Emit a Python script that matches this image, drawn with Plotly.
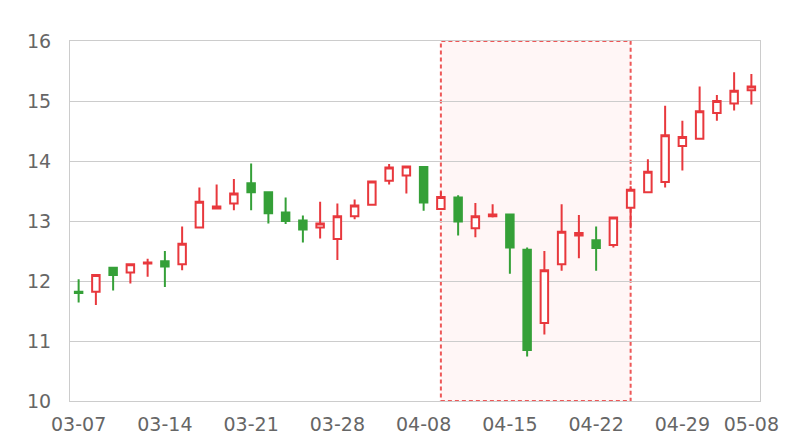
import plotly.graph_objects as go

dates = ["03-07", "03-08", "03-11", "03-12", "03-13", "03-14", "03-15", "03-18", "03-19", "03-20",
         "03-21", "03-22", "03-25", "03-26", "03-27", "03-28", "03-29", "04-01", "04-02", "04-03",
         "04-08", "04-09", "04-10", "04-11", "04-12", "04-15", "04-16", "04-17", "04-18", "04-19",
         "04-22", "04-23", "04-24", "04-25", "04-26", "04-29", "04-30", "05-06", "05-07", "05-08"]

open_ = [11.82, 11.82, 12.22, 12.14, 12.29, 12.33, 12.28, 12.89, 13.21, 13.29,
         13.63, 13.48, 13.14, 13.01, 12.89, 12.70, 13.08, 13.27, 13.67, 13.76,
         13.90, 13.20, 13.39, 12.88, 13.08, 13.11, 12.52, 11.30, 12.28, 12.76,
         12.68, 12.60, 13.22, 13.48, 13.65, 14.25, 14.37, 14.80, 14.96, 15.18]
close = [11.80, 12.10, 12.10, 12.28, 12.31, 12.24, 12.62, 13.32, 13.24, 13.46,
         13.48, 13.13, 13.00, 12.86, 12.96, 13.08, 13.26, 13.66, 13.89, 13.91,
         13.31, 13.40, 12.99, 13.08, 13.11, 12.56, 10.85, 12.18, 12.82, 12.80,
         12.55, 13.06, 13.52, 13.82, 14.43, 14.40, 14.83, 15.00, 15.17, 15.24]
high = [12.03, 12.10, 12.23, 12.28, 12.37, 12.50, 12.91, 13.56, 13.61, 13.70,
        13.96, 13.48, 13.39, 13.09, 13.32, 13.29, 13.36, 13.66, 13.95, 13.92,
        13.91, 13.49, 13.43, 13.30, 13.28, 13.12, 12.56, 12.50, 13.28, 13.10,
        12.91, 13.06, 13.58, 14.03, 14.92, 14.67, 15.24, 15.10, 15.48, 15.45]
low = [11.64, 11.60, 11.84, 11.96, 12.07, 11.90, 12.18, 12.89, 13.19, 13.18,
       13.18, 12.96, 12.95, 12.64, 12.71, 12.35, 13.03, 13.27, 13.61, 13.46,
       13.17, 13.20, 12.76, 12.73, 13.06, 12.12, 10.74, 11.11, 12.17, 12.38,
       12.17, 12.56, 12.88, 13.48, 13.56, 13.84, 14.36, 14.67, 14.84, 14.94]

tick_labels = ["03-07", "03-14", "03-21", "03-28", "04-08", "04-15", "04-22", "04-29", "05-08"]
highlight_start, highlight_end = "04-09", "04-24"

RED = "#e8383d"
GREEN = "#35a038"

fig = go.Figure(go.Candlestick(
    x=dates, open=open_, high=high, low=low, close=close,
    increasing=dict(line=dict(color=RED, width=2), fillcolor="white"),
    decreasing=dict(line=dict(color=GREEN, width=2), fillcolor=GREEN),
    whiskerwidth=0,
    hoverinfo="x+y",
))

fig.add_shape(type="rect", xref="x", yref="y",
              x0=highlight_start, x1=highlight_end, y0=10, y1=16,
              fillcolor="rgba(255,225,225,0.3)",
              line=dict(color="rgba(235,70,70,0.9)", width=2, dash="4px,3px"),
              layer="below")

# page body has an 8px default margin; plot area targeted at page x 70-760, y 41-401
fig.update_layout(
    width=800, height=440,
    margin=dict(l=62, r=48, t=33, b=47, autoexpand=False),
    paper_bgcolor="white", plot_bgcolor="white",
    showlegend=False,
    boxgap=0.38,
    font=dict(family="DejaVu Sans", size=19, color="#666666"),
    xaxis=dict(
        type="category", range=[-0.5, len(dates) - 0.5],
        automargin=False,
        rangeslider=dict(visible=False),
        tickmode="array", tickvals=tick_labels, ticktext=tick_labels,
        showgrid=False, showline=True, linecolor="#cccccc", linewidth=1, mirror=True,
        ticks="outside", ticklen=6, tickcolor="rgba(0,0,0,0)",
        tickfont=dict(size=19, color="#666666"),
    ),
    yaxis=dict(
        range=[10, 16], dtick=1, tick0=10,
        automargin=False,
        showgrid=True, gridcolor="#cccccc", gridwidth=1,
        showline=True, linecolor="#cccccc", linewidth=1, mirror=True,
        zeroline=False,
        ticks="outside", ticklen=14, tickcolor="rgba(0,0,0,0)",
        tickfont=dict(size=19, color="#666666"),
    ),
)

fig.write_html("out.html")
